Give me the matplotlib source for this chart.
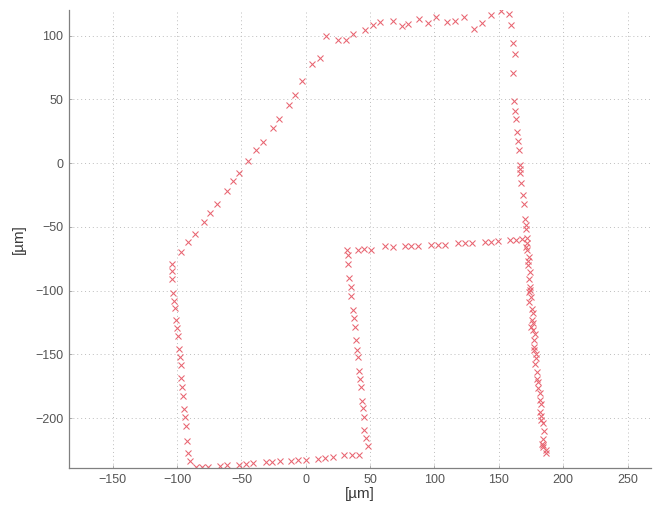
import matplotlib
matplotlib.use("Agg")
import matplotlib.pyplot as plt
import numpy as np

# ---- data (µm) ----
top_x = [15.6, 24.7, 31.2, 36.9, 46.2, 52.5, 57.9, 67.5, 74.5, 79.7, 88.3, 94.8, 101.3, 109.9, 116.1, 122.9, 130.6, 136.9, 143.6, 152.0, 157.9]
top_y = [100.0, 96.6, 96.6, 101.3, 104.4, 108.6, 110.4, 111.7, 107.6, 109.1, 113.1, 109.7, 114.4, 110.7, 111.2, 114.4, 105.2, 109.9, 115.9, 119.1, 117.0]

diag_x = [10.8, 5.2, -2.6, -8.3, -12.7, -20.5, -25.4, -33.4, -38.9, -44.6, -51.8, -56.5, -61.1, -68.9, -74.1, -79.3, -86.3, -91.2, -96.6]
diag_y = [82.6, 77.5, 64.0, 53.5, 45.7, 34.5, 27.4, 16.2, 10.2, 1.3, -8.1, -14.4, -21.7, -32.1, -39.4, -46.5, -55.6, -61.6, -70.0]

left_x = [-103.6, -104.1, -104.1, -103.0, -102.2, -101.7, -101.2, -100.1, -99.6, -98.6, -98.1, -97.3, -96.8, -96.0, -95.5, -94.4, -93.9, -93.1, -92.3, -91.8, -90.3]
left_y = [-79.1, -84.3, -91.0, -101.8, -107.8, -114.0, -122.9, -129.1, -135.8, -145.5, -152.0, -158.4, -168.8, -175.8, -182.6, -193.0, -199.2, -206.5, -217.7, -227.3, -233.8]

bot_x = [-85.6, -80.9, -75.7, -66.7, -61.0, -51.9, -46.7, -40.7, -31.1, -25.9, -20.2, -11.7, -5.7, 0.0, 9.1, 15.0, 20.8, 29.8, 35.8, 41.5]
bot_y = [-238.2, -238.4, -238.2, -237.7, -236.9, -236.4, -235.6, -235.1, -234.3, -234.0, -233.8, -233.2, -233.0, -232.7, -231.7, -231.2, -230.4, -229.1, -228.8, -229.1]

mid_x = [48.0, 46.7, 45.4, 44.9, 44.1, 43.3, 42.8, 42.3, 41.5, 40.5, 39.9, 39.2, 38.1, 37.4, 36.8, 35.3, 35.0, 33.9, 33.1, 32.6, 31.8]
mid_y = [-222.0, -215.6, -209.6, -198.7, -192.2, -186.2, -175.3, -169.4, -162.9, -151.9, -146.2, -139.0, -128.6, -121.3, -115.1, -103.9, -96.9, -90.0, -79.5, -71.7, -68.5]

row_x = [40.4, 45.6, 50.8, 61.2, 67.6, 76.7, 81.9, 87.1, 97.5, 102.7, 108.4, 118.2, 123.4, 129.4, 139.0, 144.2, 149.4, 158.4, 163.6, 168.3]
row_y = [-68.5, -67.2, -67.8, -65.1, -65.9, -65.1, -64.9, -64.9, -64.4, -64.4, -64.1, -62.5, -62.5, -62.8, -61.7, -61.7, -61.2, -60.4, -60.2, -59.9]

ru_x = [159.2, 161.0, 162.2, 161.1, 161.7, 162.4, 163.5, 164.2, 164.8, 165.5, 166.3, 166.8, 166.8, 167.4, 168.7, 169.4, 170.5, 171.0, 171.0]
ru_y = [108.4, 94.5, 85.2, 70.4, 48.7, 40.9, 34.3, 24.4, 17.4, 10.3, -1.7, -4.8, -7.4, -15.3, -25.2, -32.2, -44.0, -48.2, -51.8]

rl_x = [172.0, 171.5, 172.0, 173.3, 172.8, 174.6, 173.6, 174.6, 174.1, 175.1, 173.3, 175.4, 176.2, 175.6, 176.2, 175.1,
        178.0, 177.2, 177.2, 177.7, 178.8, 178.0, 179.3, 179.8, 180.8, 181.9, 181.9, 182.4, 181.9, 182.9, 184.0, 185.0,
        184.5, 183.7, 184.5, 186.3, 187.0, 171.0, 172.5, 173.5, 176.5, 178.5, 180.3, 182.5, 184.0]
rl_y = [-58.5, -62.4, -68.1, -73.4, -76.5, -85.1, -91.1, -96.9, -99.5, -105.2, -108.6, -114.6, -117.2, -123.0, -125.6, -128.2,
        -133.9, -138.6, -143.9, -146.5, -153.0, -157.4, -163.4, -169.5, -176.5, -180.4, -185.6, -188.8, -194.8, -201.3, -203.4, -210.4,
        -216.4, -220.1, -222.2, -225.3, -227.4, -66.0, -80.0, -101.0, -131.0, -150.0, -172.0, -198.0, -221.0]

x_ticks = [-150, -100, -50, 0, 50, 100, 150, 200, 250]
y_ticks = [-200, -150, -100, -50, 0, 50, 100]
x_label = "[µm]"
y_label = "[µm]"

xs = np.concatenate([top_x, diag_x, left_x, bot_x, mid_x, row_x, ru_x, rl_x])
ys = np.concatenate([top_y, diag_y, left_y, bot_y, mid_y, row_y, ru_y, rl_y])

plt.rcParams['font.family'] = ['Liberation Sans', 'DejaVu Sans']

fig = plt.figure(figsize=(6.61, 5.13), dpi=100)
ax = fig.add_axes([0.1044, 0.0871, 0.880, 0.8934])

ax.plot(xs, ys, linestyle='none', marker='x', color='#e86470',
        markersize=4.2, markeredgewidth=0.75)

ax.set_xlim(-184, 268)
ax.set_ylim(-239.3, 120)
ax.set_xticks(x_ticks)
ax.set_yticks(y_ticks)

ax.grid(True, linestyle=(0, (1.0, 3.0)), color='#bdbdbd', linewidth=0.7)
ax.set_axisbelow(True)

for s in ['top', 'right']:
    ax.spines[s].set_visible(False)
for s in ['left', 'bottom']:
    ax.spines[s].set_color('#808080')
    ax.spines[s].set_linewidth(0.9)

ax.tick_params(direction='in', length=2, width=0.5, color='#909090',
               labelsize=9, labelcolor='#555555', pad=4)

ax.set_xlabel(x_label, fontsize=11, color='#3a3a3a', labelpad=1)
ax.set_ylabel(y_label, fontsize=11, color='#3a3a3a', labelpad=7)

fig.savefig('out.png', dpi=100, facecolor='white')
